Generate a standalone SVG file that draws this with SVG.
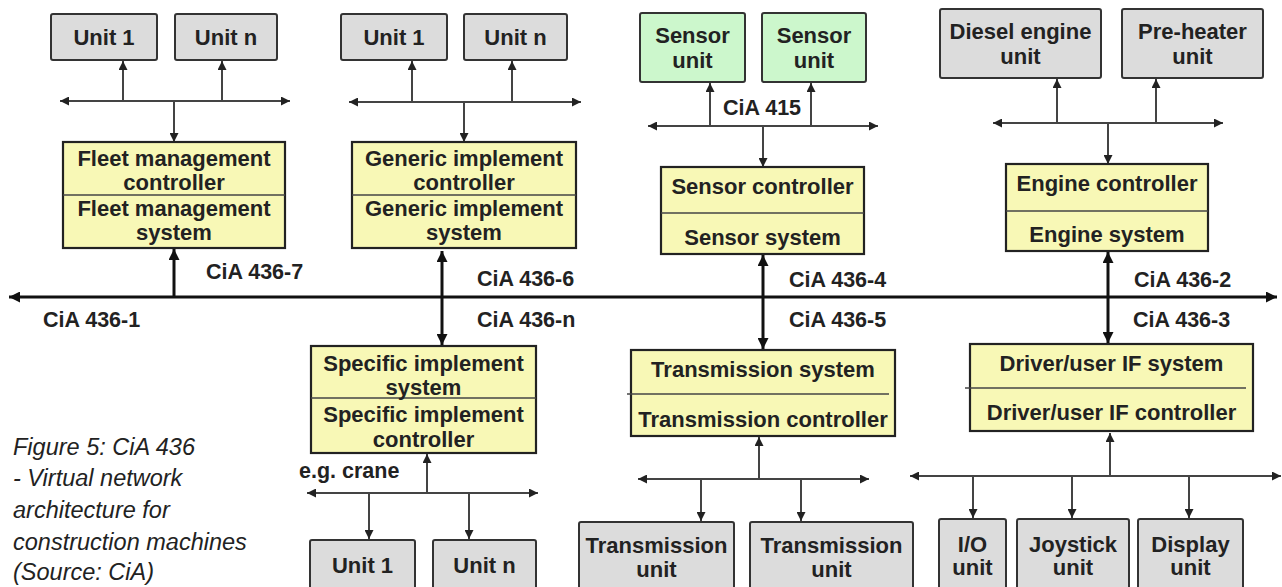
<svg xmlns="http://www.w3.org/2000/svg" width="1282" height="587" viewBox="0 0 1282 587">
<style>
text{font-family:"Liberation Sans",Arial,sans-serif;fill:#222;}
.t{font-size:22px;font-weight:bold;text-anchor:middle;}
.l{font-size:21.5px;font-weight:bold;}
.cap{font-size:23.5px;font-style:italic;fill:#222;}
.u{fill:#dcdcdc;stroke:#333;stroke-width:2;}
.y{fill:#f8f8b6;stroke:#222;stroke-width:2.2;}
.g{fill:#ccf7cc;stroke:#333;stroke-width:2;}
.div{stroke:#444;stroke-width:1.6;fill:none;}
.c{stroke:#444;stroke-width:2;fill:none;}
.m{stroke:#111;stroke-width:3;fill:none;}
</style>
<defs>
<marker id="a" viewBox="0 0 10 10" refX="10" refY="5" markerWidth="9" markerHeight="9" markerUnits="userSpaceOnUse" orient="auto-start-reverse"><path d="M0,0 L10,5 L0,10 z" fill="#222"/></marker>
<marker id="b" viewBox="0 0 10 10" refX="10" refY="5" markerWidth="11" markerHeight="11" markerUnits="userSpaceOnUse" orient="auto-start-reverse"><path d="M0,0 L10,5 L0,10 z" fill="#111"/></marker>
</defs>

<g id="connectors">
<line class="m" x1="9" y1="297" x2="1277" y2="297" marker-start="url(#b)" marker-end="url(#b)"/>
<line class="m" x1="174" y1="297" x2="174" y2="249" marker-end="url(#b)"/>
<line class="m" x1="442" y1="251" x2="442" y2="345" marker-start="url(#b)" marker-end="url(#b)"/>
<line class="m" x1="763" y1="255" x2="763" y2="349" marker-start="url(#b)" marker-end="url(#b)"/>
<line class="m" x1="1108" y1="252" x2="1108" y2="343" marker-start="url(#b)" marker-end="url(#b)"/>

<line class="c" x1="60" y1="101" x2="290" y2="101" marker-start="url(#a)" marker-end="url(#a)"/>
<line class="c" x1="123" y1="101" x2="123" y2="61" marker-end="url(#a)"/>
<line class="c" x1="222" y1="101" x2="222" y2="61" marker-end="url(#a)"/>
<line class="c" x1="174" y1="101" x2="174" y2="142" marker-end="url(#a)"/>

<line class="c" x1="349" y1="102" x2="581" y2="102" marker-start="url(#a)" marker-end="url(#a)"/>
<line class="c" x1="412" y1="102" x2="412" y2="61" marker-end="url(#a)"/>
<line class="c" x1="512" y1="102" x2="512" y2="61" marker-end="url(#a)"/>
<line class="c" x1="464" y1="102" x2="464" y2="142" marker-end="url(#a)"/>

<line class="c" x1="648" y1="126" x2="878" y2="126" marker-start="url(#a)" marker-end="url(#a)"/>
<line class="c" x1="710" y1="126" x2="710" y2="83" marker-end="url(#a)"/>
<line class="c" x1="811" y1="126" x2="811" y2="83" marker-end="url(#a)"/>
<line class="c" x1="763" y1="126" x2="763" y2="167" marker-end="url(#a)"/>

<line class="c" x1="993" y1="123" x2="1223" y2="123" marker-start="url(#a)" marker-end="url(#a)"/>
<line class="c" x1="1057" y1="123" x2="1057" y2="79" marker-end="url(#a)"/>
<line class="c" x1="1156" y1="123" x2="1156" y2="79" marker-end="url(#a)"/>
<line class="c" x1="1108" y1="123" x2="1108" y2="164" marker-end="url(#a)"/>

<line class="c" x1="307" y1="493" x2="538" y2="493" marker-start="url(#a)" marker-end="url(#a)"/>
<line class="c" x1="427" y1="493" x2="427" y2="454" marker-end="url(#a)"/>
<line class="c" x1="369" y1="493" x2="369" y2="539" marker-end="url(#a)"/>
<line class="c" x1="469" y1="493" x2="469" y2="539" marker-end="url(#a)"/>

<line class="c" x1="638" y1="479" x2="869" y2="479" marker-start="url(#a)" marker-end="url(#a)"/>
<line class="c" x1="759" y1="479" x2="759" y2="437" marker-end="url(#a)"/>
<line class="c" x1="701" y1="479" x2="701" y2="521" marker-end="url(#a)"/>
<line class="c" x1="801" y1="479" x2="801" y2="521" marker-end="url(#a)"/>

<line class="c" x1="910" y1="476" x2="1281" y2="476" marker-start="url(#a)" marker-end="url(#a)"/>
<line class="c" x1="1110" y1="476" x2="1110" y2="433" marker-end="url(#a)"/>
<line class="c" x1="973" y1="476" x2="973" y2="518" marker-end="url(#a)"/>
<line class="c" x1="1072" y1="476" x2="1072" y2="518" marker-end="url(#a)"/>
<line class="c" x1="1189" y1="476" x2="1189" y2="518" marker-end="url(#a)"/>
</g>

<g id="fleet-unit1"><rect class="u" x="51" y="14" width="106" height="46" rx="2"/><text class="t" x="104" y="45">Unit 1</text></g>
<g id="fleet-unitn"><rect class="u" x="175" y="14" width="102" height="46" rx="2"/><text class="t" x="226" y="45">Unit n</text></g>
<g id="fleet"><rect class="y" x="63" y="142" width="222" height="106"/><line class="div" x1="63" y1="195" x2="285" y2="195"/>
<text class="t" x="174" y="166">Fleet management</text><text class="t" x="174" y="190">controller</text>
<text class="t" x="174" y="216">Fleet management</text><text class="t" x="174" y="240">system</text></g>

<g id="gen-unit1"><rect class="u" x="341" y="14" width="106" height="46" rx="2"/><text class="t" x="394" y="45">Unit 1</text></g>
<g id="gen-unitn"><rect class="u" x="464" y="14" width="103" height="46" rx="2"/><text class="t" x="515.5" y="45">Unit n</text></g>
<g id="generic"><rect class="y" x="352" y="142" width="224" height="106"/><line class="div" x1="352" y1="195" x2="576" y2="195"/>
<text class="t" x="464" y="166">Generic implement</text><text class="t" x="464" y="190">controller</text>
<text class="t" x="464" y="216">Generic implement</text><text class="t" x="464" y="240">system</text></g>

<g id="sensor-unit1"><rect class="g" x="640" y="13" width="105" height="69" rx="2"/><text class="t" x="692.5" y="43">Sensor</text><text class="t" x="692.5" y="68">unit</text></g>
<g id="sensor-unit2"><rect class="g" x="762" y="13" width="104" height="69" rx="2"/><text class="t" x="814" y="43">Sensor</text><text class="t" x="814" y="68">unit</text></g>
<g id="sensor"><rect class="y" x="661" y="167" width="203" height="87"/><line class="div" x1="661" y1="213" x2="864" y2="213"/>
<text class="t" x="762.5" y="194">Sensor controller</text><text class="t" x="762.5" y="245">Sensor system</text></g>

<g id="diesel"><rect class="u" x="940" y="9" width="161" height="69" rx="2"/><text class="t" x="1020.5" y="39">Diesel engine</text><text class="t" x="1020.5" y="64">unit</text></g>
<g id="preheater"><rect class="u" x="1122" y="9" width="141" height="69" rx="2"/><text class="t" x="1192.5" y="39">Pre-heater</text><text class="t" x="1192.5" y="64">unit</text></g>
<g id="engine"><rect class="y" x="1006" y="164" width="202" height="87"/><line class="div" x1="1006" y1="211" x2="1208" y2="211"/>
<text class="t" x="1107" y="191">Engine controller</text><text class="t" x="1107" y="242">Engine system</text></g>

<g id="specific"><rect class="y" x="311" y="346" width="225" height="107"/><line class="div" x1="311" y1="398" x2="536" y2="398"/>
<text class="t" x="423.5" y="371">Specific implement</text><text class="t" x="423.5" y="395">system</text>
<text class="t" x="423.5" y="422">Specific implement</text><text class="t" x="423.5" y="447">controller</text></g>
<g id="spec-unit1"><rect class="u" x="310" y="540" width="105" height="60" rx="2"/><text class="t" x="362.5" y="573">Unit 1</text></g>
<g id="spec-unitn"><rect class="u" x="433" y="540" width="103" height="60" rx="2"/><text class="t" x="484.5" y="573">Unit n</text></g>

<g id="transmission"><rect class="y" x="631" y="350" width="264" height="86"/><line class="div" x1="627" y1="394" x2="889" y2="394"/>
<text class="t" x="763" y="377">Transmission system</text><text class="t" x="763" y="427">Transmission controller</text></g>
<g id="trans-unit1"><rect class="u" x="579" y="522" width="155" height="80" rx="2"/><text class="t" x="656.5" y="553">Transmission</text><text class="t" x="656.5" y="577">unit</text></g>
<g id="trans-unit2"><rect class="u" x="750" y="522" width="163" height="80" rx="2"/><text class="t" x="831.5" y="553">Transmission</text><text class="t" x="831.5" y="577">unit</text></g>

<g id="driver"><rect class="y" x="970" y="344" width="283" height="87"/><line class="div" x1="965" y1="388" x2="1246" y2="388"/>
<text class="t" x="1111.5" y="371">Driver/user IF system</text><text class="t" x="1111.5" y="420">Driver/user IF controller</text></g>
<g id="io"><rect class="u" x="939" y="519" width="67" height="80" rx="2"/><text class="t" x="972.5" y="552">I/O</text><text class="t" x="972.5" y="575">unit</text></g>
<g id="joystick"><rect class="u" x="1017" y="519" width="112" height="80" rx="2"/><text class="t" x="1073" y="552">Joystick</text><text class="t" x="1073" y="575">unit</text></g>
<g id="display"><rect class="u" x="1138" y="519" width="105" height="80" rx="2"/><text class="t" x="1190.5" y="552">Display</text><text class="t" x="1190.5" y="575">unit</text></g>

<g id="labels">
<text class="l" x="206" y="279">CiA 436-7</text>
<text class="l" x="477" y="286">CiA 436-6</text>
<text class="l" x="789" y="287">CiA 436-4</text>
<text class="l" x="1134" y="287">CiA 436-2</text>
<text class="l" x="43" y="327">CiA 436-1</text>
<text class="l" x="477" y="327">CiA 436-n</text>
<text class="l" x="789" y="327">CiA 436-5</text>
<text class="l" x="1133" y="327">CiA 436-3</text>
<text class="l" x="723" y="115">CiA 415</text>
<text class="l" x="299" y="478">e.g. crane</text>
</g>

<g id="caption">
<text class="cap" x="13" y="455">Figure 5: CiA 436</text>
<text class="cap" x="13" y="486">- Virtual network</text>
<text class="cap" x="13" y="518">architecture for</text>
<text class="cap" x="13" y="550">construction machines</text>
<text class="cap" x="13" y="580">(Source: CiA)</text>
</g>
</svg>
